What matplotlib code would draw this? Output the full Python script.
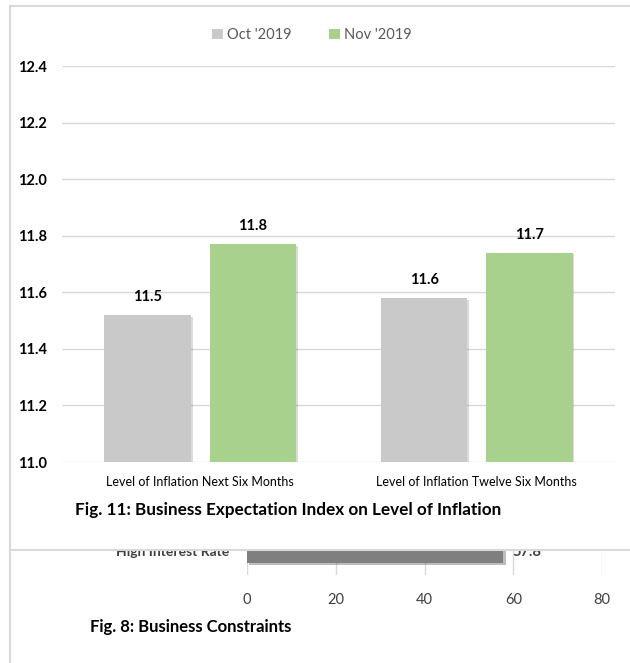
import numpy as np
import matplotlib
matplotlib.use('Agg')
from matplotlib import pyplot as plt
from matplotlib import patheffects as pe
from matplotlib.lines import Line2D
from matplotlib.patches import Rectangle

# data
categories = ['Level of Inflation Next Six Months', 'Level of Inflation Twelve Six Months']
series_names = ["Oct '2019", "Nov '2019"]
oct_values = [11.52, 11.58]
nov_values = [11.77, 11.74]
oct_labels = ['11.5', '11.6']
nov_labels = ['11.8', '11.7']
y_ticks = [11.0, 11.2, 11.4, 11.6, 11.8, 12.0, 12.2, 12.4]

constraint_names = ['High Interest Rate']
constraint_values = [57.8]
constraint_ticks = [0, 20, 40, 60, 80]

W, H = 630, 663
FONT = ['Lato', 'DejaVu Sans']
plt.rcParams['font.family'] = FONT

OCT_C = '#c9c9c9'
NOV_C = '#a9d18e'
GRID_C = '#d9d9d9'
TXT_C = '#595959'


def fbox(x0, y0, x1, y1):
    """ Pixel box (top-left origin) to figure fractions [l, b, w, h]. """
    return [x0 / W, 1 - y1 / H, (x1 - x0) / W, (y1 - y0) / H]


def fpt(x, y):
    return x / W, 1 - y / H


def main():
    fig = plt.figure(figsize=(W / 100, H / 100), dpi=100)
    fig.patch.set_facecolor('white')
    shadow = [pe.SimplePatchShadow(offset=(1.2, -1.2), alpha=0.18), pe.Normal()]

    # lower, cut-off chart (Fig. 8)
    ax2 = fig.add_axes(fbox(247, 551, 602, 575), zorder=0)
    ax2.set_xlim(0, 80)
    ax2.set_ylim(0, 1)
    ax2.barh([1.0], constraint_values, height=1.0, color='#7f7f7f',
             path_effects=[pe.SimplePatchShadow(offset=(1.5, -1.5), alpha=0.3), pe.Normal()],
             zorder=3)
    ax2.set_xticks(constraint_ticks)
    ax2.tick_params(axis='x', length=0, pad=13, labelsize=10.5, labelcolor='#404040')
    ax2.set_yticks([])
    ax2.grid(axis='x', color=GRID_C, linewidth=1)
    ax2.set_axisbelow(True)
    for s in ax2.spines.values():
        s.set_visible(False)
    for name, v in zip(constraint_names, constraint_values):
        ax2.text(-0.05, 0.96, name, transform=ax2.transAxes, ha='right', va='center',
                 fontsize=10, fontweight='bold', color='#404040', clip_on=False)
        ax2.text(v + 2.0, 0.96, f'{v}', ha='left', va='center', fontsize=10.5,
                 fontweight='bold', color='#404040', clip_on=False)

    # white panel covering the top part of the lower chart
    fig.add_artist(Rectangle(fpt(10, 551), (W - 10) / W, (551 - 6) / H,
                             transform=fig.transFigure, facecolor='white',
                             edgecolor='none', zorder=1))
    for (x0, y0, x1, y1) in [(10, 6, W, 6), (10, 6, 10, H), (10, 550, W, 550)]:
        fig.add_artist(Line2D([x0 / W, x1 / W], [1 - y0 / H, 1 - y1 / H],
                              transform=fig.transFigure, color=GRID_C,
                              linewidth=1.5, zorder=1.5))

    # main chart (Fig. 11)
    ax = fig.add_axes(fbox(62, 66, 615, 462), zorder=2)
    ax.patch.set_alpha(0)
    x = np.arange(len(categories))
    off = 0.19
    bw = 0.313
    b1 = ax.bar(x - off, np.array(oct_values) - 11.0, bw, bottom=11.0, color=OCT_C,
                label=series_names[0], path_effects=shadow, zorder=3)
    b2 = ax.bar(x + off, np.array(nov_values) - 11.0, bw, bottom=11.0, color=NOV_C,
                label=series_names[1], path_effects=shadow, zorder=3)
    for bars, labels in [(b1, oct_labels), (b2, nov_labels)]:
        for r, lab in zip(bars, labels):
            ax.annotate(lab, (r.get_x() + r.get_width() / 2, r.get_y() + r.get_height()),
                        xytext=(0, 8), textcoords='offset points', ha='center', va='bottom',
                        fontsize=10.5, fontweight='bold', color='black')
    ax.set_xlim(-0.5, 1.5)
    ax.set_ylim(11.0, 12.4)
    ax.set_yticks(y_ticks)
    ax.set_yticklabels([f'{t:.1f}' for t in y_ticks])
    ax.set_xticks(x)
    ax.set_xticklabels(categories)
    ax.tick_params(axis='y', length=0, pad=11, labelsize=10.5)
    ax.tick_params(axis='x', length=0, pad=10, labelsize=9)
    for lab in ax.get_yticklabels():
        lab.set_fontweight('bold')
    ax.grid(axis='y', color=GRID_C, linewidth=1)
    ax.set_axisbelow(True)
    for s in ax.spines.values():
        s.set_visible(False)

    leg = fig.legend(handles=[b1, b2], labels=series_names, loc='center',
                     bbox_to_anchor=fpt(312, 35), ncol=2, frameon=False,
                     fontsize=10.5, handlelength=0.7, handleheight=0.7,
                     handletextpad=0.3, columnspacing=2.6)
    for t in leg.get_texts():
        t.set_color(TXT_C)
    for h in leg.legend_handles:
        h.set_path_effects([])
    leg.set_zorder(3)

    fig.text(*fpt(75, 510), 'Fig. 11: Business Expectation Index on Level of Inflation',
             ha='left', va='center', fontsize=12.3, fontweight='bold', color='black', zorder=3)
    fig.text(*fpt(90, 627), 'Fig. 8: Business Constraints',
             ha='left', va='center', fontsize=12, fontweight='bold', color='black', zorder=3)

    fig.savefig('out.png', dpi=100)


if __name__ == '__main__':
    main()
